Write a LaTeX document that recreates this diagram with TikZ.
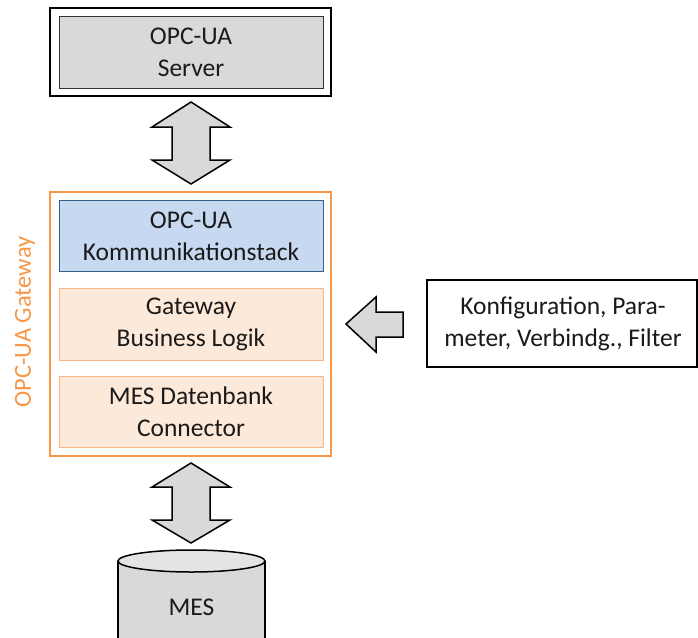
\documentclass[tikz,border=0pt]{standalone}
\usepackage{fontspec}
\setmainfont{Carlito}
\usetikzlibrary{calc}
\definecolor{txt}{HTML}{1A1A1A}
\definecolor{boxgray}{HTML}{D9D9D9}
\definecolor{lightgray}{HTML}{E4E4E4}
\definecolor{gworange}{HTML}{F79646}
\definecolor{paleorange}{HTML}{FDE9D9}
\definecolor{orangeline}{HTML}{F9B58A}
\definecolor{stackblue}{HTML}{C6D9F1}
\definecolor{stackline}{HTML}{385D8A}
\tikzset{
  lbl/.style={font=\fontsize{25.5}{32}\selectfont, text=txt, align=center},
  layer/.style={draw=orangeline, fill=paleorange, line width=1pt},
  blockarrow/.style={draw=black, fill=boxgray, line width=1.5pt, line join=miter},
}
\begin{document}
\begin{tikzpicture}[x=1pt, y=-1pt]
\useasboundingbox (0,0) rectangle (698,637);

% OPC-UA server: double frame
\draw[line width=2.5pt] (50,8) rectangle (331,96);
\draw[fill=boxgray, draw=black!80, line width=1pt] (59,16) rectangle (323,88);
\node[lbl] (server) at (191,52) {OPC-UA\\Server};

% gateway frame and its three layers
\draw[draw=gworange, line width=2pt] (50,192) rectangle (331,456);
\node[text=gworange, rotate=90, font=\fontsize{24.5}{31}\selectfont] (gwlabel) at (25,322) {OPC-UA Gateway};
\draw[fill=stackblue, draw=stackline, line width=1pt] (59,200) rectangle (323,271);
\node[lbl] (stack) at (191,236) {OPC-UA\\Kommunikationstack};
\draw[layer] (59,288) rectangle (323,360);
\node[lbl] (logic) at (191,324) {Gateway\\Business Logik};
\draw[layer] (59,376) rectangle (323,447);
\node[lbl] (conn) at (191,412) {MES Datenbank\\Connector};

% configuration input
\draw[line width=1.8pt, fill=white] (427,280) rectangle (697,367);
\node[lbl] (config) at (563,324) {Konfiguration, Para-\\meter, Verbindg., Filter};

% block arrows
\draw[blockarrow] (191,102) -- (230,127) -- (210,127) -- (210,160) -- (230,160)
  -- (191,184) -- (152,160) -- (172,160) -- (172,127) -- (152,127) -- cycle;
\draw[blockarrow] (191,463) -- (230,487) -- (210,487) -- (210,520) -- (230,520)
  -- (191,543) -- (152,520) -- (172,520) -- (172,487) -- (152,487) -- cycle;
\draw[blockarrow] (346,324) -- (376,297) -- (376,312) -- (403,312) -- (403,337)
  -- (376,337) -- (376,352) -- cycle;

% MES database cylinder
\draw[fill=boxgray, line width=1.5pt] (118,561) -- (118,660) -- (265,660) -- (265,561);
\draw[fill=lightgray, line width=1.5pt] (191.5,561) ellipse [x radius=73.5, y radius=11];
\node[lbl] (mes) at (191.5,607) {MES};
\end{tikzpicture}
\end{document}
